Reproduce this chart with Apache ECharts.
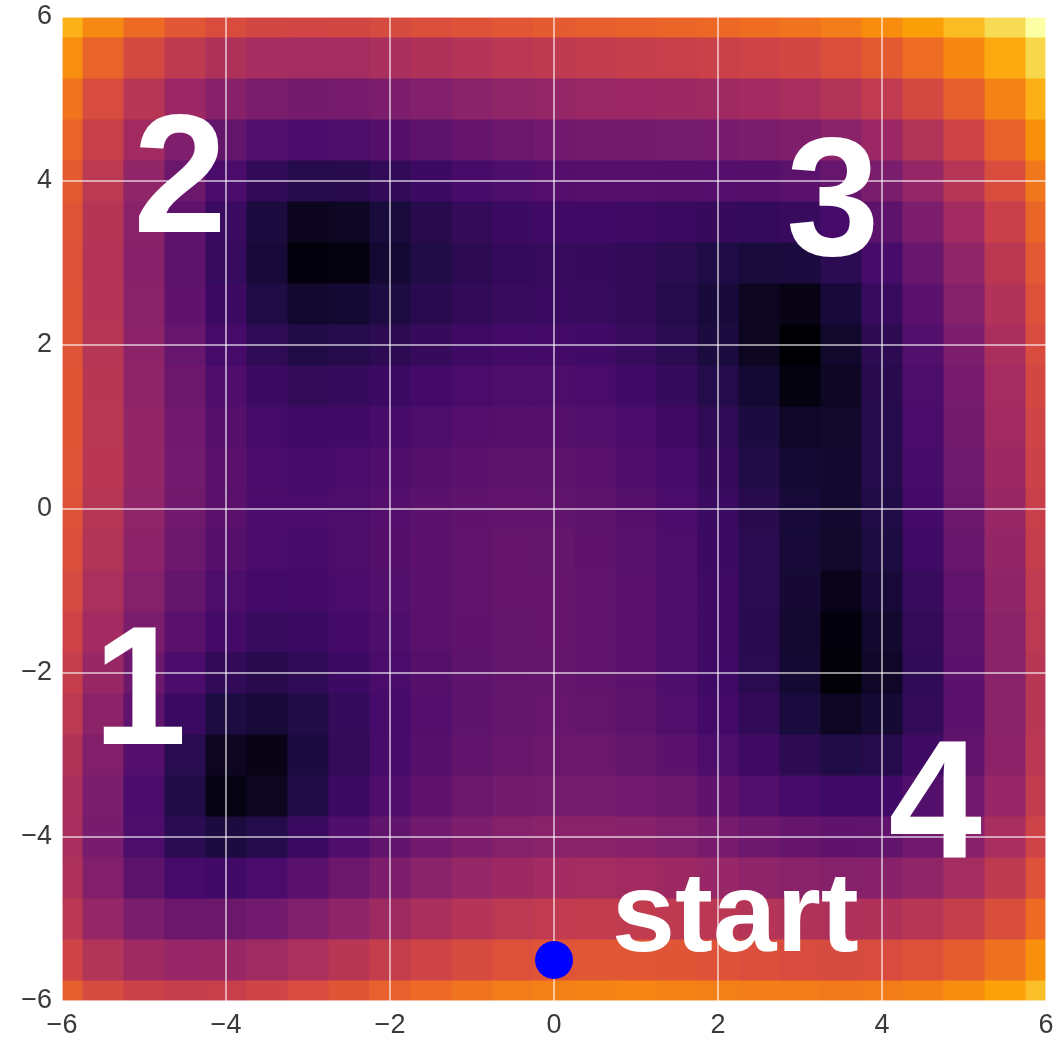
<!DOCTYPE html>
<html>
<head>
<meta charset="utf-8">
<script src="https://cdn.jsdelivr.net/npm/echarts@6/dist/echarts.min.js"></script>
<style>
html,body{margin:0;padding:0;background:#fff}
#chart{width:1063px;height:1041px}
</style>
</head>
<body>
<div id="chart"></div>
<script>
// grid of sampled surface values (cell centres), rows from top (y=6) to bottom (y=-6)
var xs = [-6,-5.5,-5,-4.5,-4,-3.5,-3,-2.5,-2,-1.5,-1,-0.5,0,0.5,1,1.5,2,2.5,3,3.5,4,4.5,5,5.5,6];
var ys = [6,5.5,5,4.5,4,3.5,3,2.5,2,1.5,1,0.5,0,-0.5,-1,-1.5,-2,-2.5,-3,-3.5,-4,-4.5,-5,-5.5,-6];
var surface = [
  [1490,1190,976,833,746,703,692,704,730,764,800,835,866,893,916,938,962,994,1040,1109,1210,1355,1556,1828,2186],
  [1228,928,713,569,481,436,422,431,454,484,515,545,571,592,608,623,640,664,701,761,853,988,1178,1439,1786],
  [1044,744,530,385,296,249,234,240,260,286,314,339,360,375,386,394,404,420,450,501,584,709,890,1140,1476],
  [923,624,410,266,176,128,111,116,133,156,180,202,218,228,233,236,239,248,270,314,388,504,675,916,1241],
  [850,553,340,196,106,58,40,43,58,79,100,118,130,136,136,133,130,133,148,184,250,358,520,751,1066],
  [813,518,306,163,74,26,7,9,23,42,60,75,84,86,81,73,65,62,70,99,158,258,411,633,939],
  [800,507,298,156,68,20,2,3,16,33,50,62,68,66,58,45,32,23,26,48,100,192,338,551,848],
  [802,512,305,166,79,32,14,16,28,44,59,70,73,68,56,40,22,8,5,22,67,152,290,496,784],
  [810,524,320,183,98,53,36,38,50,66,80,89,90,83,68,48,26,8,0,11,50,129,260,458,738],
  [818,536,335,201,119,76,60,63,76,92,105,113,113,104,86,63,38,16,3,9,43,116,240,431,704],
  [820,542,346,215,136,95,82,86,100,116,130,137,136,125,106,80,52,26,10,11,40,107,226,410,676],
  [813,540,348,222,146,108,97,104,119,136,150,158,156,144,123,96,65,36,16,14,38,100,213,392,651],
  [794,527,340,218,146,112,104,113,130,149,164,172,170,158,136,107,74,43,20,14,34,92,200,373,626],
  [763,502,320,203,136,106,101,113,133,154,170,179,178,166,143,113,79,46,20,11,28,82,185,353,601],
  [720,465,290,178,116,90,90,105,128,151,170,180,180,168,146,115,80,45,18,6,20,70,170,333,576],
  [668,420,251,146,89,68,72,92,118,144,165,178,179,168,146,116,80,44,15,2,13,60,156,316,554],
  [610,370,208,109,58,43,52,76,106,136,160,175,178,169,148,118,82,46,16,1,10,55,148,304,538],
  [552,320,165,73,29,20,34,63,98,132,159,177,183,176,156,127,92,56,25,9,17,60,150,303,534],
  [500,276,130,45,8,5,26,60,100,138,170,191,200,195,178,150,116,80,50,33,40,81,170,320,548],
  [463,248,110,34,4,8,35,76,121,164,200,226,238,236,221,196,163,128,98,82,88,128,215,364,589],
  [450,245,116,48,26,38,72,119,170,219,260,290,306,308,296,273,242,209,180,164,170,210,296,443,666],
  [473,278,158,99,86,106,147,201,259,314,360,395,416,422,413,393,365,334,306,291,298,338,423,569,791],
  [544,359,250,200,196,224,274,335,400,461,514,554,580,590,586,569,544,515,490,476,484,524,610,755,976],
  [678,504,405,366,371,408,466,536,608,676,735,782,813,828,828,816,794,768,745,734,743,784,870,1016,1236],
  [890,728,640,611,626,673,740,818,898,974,1040,1093,1130,1151,1156,1148,1130,1108,1088,1079,1090,1133,1220,1366,1586]
];
var ticks = [-6,-4,-2,0,2,4,6];

var startPoint = [0, -5.5];
var annoText = ['1','2','3','4','start'];
var annoX = [-5.05,-4.56,3.40,4.65,2.21];
var annoY = [-2.30,3.94,3.66,-3.69,-5.01];

// inferno colormap, sampled through a square-root norm
var infernoStops = [[0,'#000004'],[1/9,'#1b0c41'],[0.2,'#420a68'],[2/9,'#4a0c6b'],[1/3,'#781c6d'],
  [0.4,'#932667'],[4/9,'#a52c60'],[5/9,'#cf4446'],[0.6,'#dd513a'],[2/3,'#ed6925'],
  [7/9,'#fb9b06'],[0.8,'#fca50a'],[8/9,'#f7d13d'],[1,'#fcffa4']];
function hexRgb(h){ return [parseInt(h.substr(1,2),16),parseInt(h.substr(3,2),16),parseInt(h.substr(5,2),16)]; }
function inferno(t){
  for (var i=1;i<infernoStops.length;i++){
    if (t <= infernoStops[i][0]) {
      var a=infernoStops[i-1], b=infernoStops[i];
      var f=(t-a[0])/(b[0]-a[0]), ca=hexRgb(a[1]), cb=hexRgb(b[1]);
      return 'rgb('+Math.round(ca[0]+(cb[0]-ca[0])*f)+','+Math.round(ca[1]+(cb[1]-ca[1])*f)+','+Math.round(ca[2]+(cb[2]-ca[2])*f)+')';
    }
  }
  return infernoStops[infernoStops.length-1][1];
}
var ramp = [];
for (var i=0;i<=200;i++) ramp.push(inferno(Math.sqrt(i/200)));

var cells = [];
var vmax = 0;
ys.forEach(function(y, r){
  xs.forEach(function(x, c){
    cells.push([x, y, surface[r][c]]);
    if (surface[r][c] > vmax) vmax = surface[r][c];
  });
});
var half = (xs[1]-xs[0])/2;

function fmt(v){ return v < 0 ? '\u2212' + Math.abs(v) : String(v); }

var chart = echarts.init(document.getElementById('chart'));
var labelFont = {fontSize: 27, color: '#3a3a3a', fontFamily: 'Liberation Sans, Arial, sans-serif'};
var option = {
  animation: false,
  grid: {left: 62, top: 17, width: 984, height: 984},
  xAxis: {
    type: 'value', min: ticks[0], max: ticks[ticks.length-1], interval: 2, z: 3,
    axisLine: {show: false}, axisTick: {show: false},
    axisLabel: Object.assign({margin: 11, formatter: fmt}, labelFont),
    splitLine: {show: true, lineStyle: {color: 'rgba(255,255,255,0.75)', width: 1.5}}
  },
  yAxis: {
    type: 'value', min: ticks[0], max: ticks[ticks.length-1], interval: 2, z: 3,
    axisLine: {show: false}, axisTick: {show: false},
    axisLabel: Object.assign({margin: 10, formatter: fmt}, labelFont),
    splitLine: {show: true, lineStyle: {color: 'rgba(255,255,255,0.75)', width: 1.5}}
  },
  visualMap: {
    show: false, type: 'continuous', seriesIndex: 0, dimension: 2,
    min: 0, max: vmax, inRange: {color: ramp}
  },
  series: [
    {
      type: 'custom', z: 1, clip: true,
      data: cells,
      renderItem: function(params, api){
        var x = api.value(0), y = api.value(1);
        var p0 = api.coord([x-half, y+half]);
        var p1 = api.coord([x+half, y-half]);
        return {type: 'rect', shape: {x: p0[0], y: p0[1], width: p1[0]-p0[0]+1, height: p1[1]-p0[1]+1},
          style: {fill: api.visual('color')}};
      }
    },
    {
      type: 'scatter', z: 5, symbolSize: 38,
      itemStyle: {color: '#0000ff', opacity: 1},
      data: [startPoint]
    },
    {
      type: 'scatter', z: 6, symbolSize: 1,
      itemStyle: {color: 'rgba(0,0,0,0)', opacity: 1},
      label: {show: true, position: 'inside', color: '#ffffff', opacity: 1, fontWeight: 'bold',
        fontFamily: 'Liberation Sans, Arial, sans-serif', formatter: '{b}'},
      data: annoText.map(function(t, i){
        return {name: t, value: [annoX[i], annoY[i]], label: {fontSize: t === 'start' ? 114 : 168}};
      })
    }
  ]
};
chart.setOption(option);
</script>
</body>
</html>
